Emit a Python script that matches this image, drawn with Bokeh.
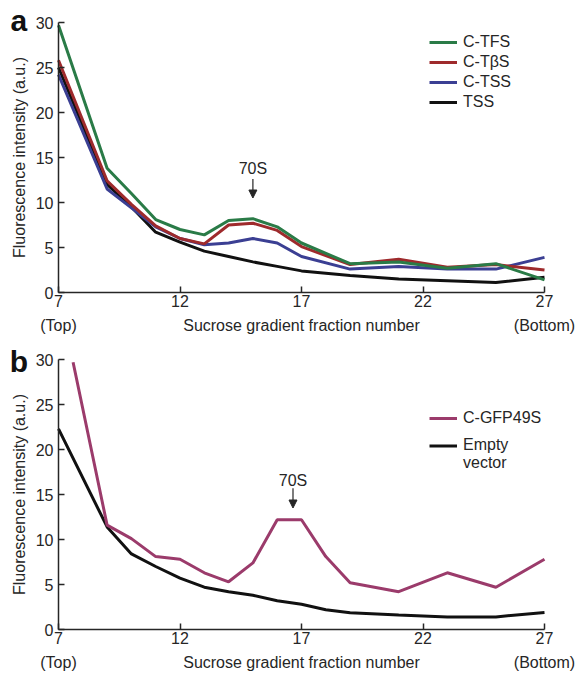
from bokeh.plotting import figure
from bokeh.layouts import column
from bokeh.models import (FixedTicker, LinearAxis, Legend, LegendItem, Label, Arrow,
                          NormalHead, Range1d)
from bokeh.embed import file_html
from bokeh.resources import INLINE

# ---- data: panel a ----
frac_a = [7, 9, 10, 11, 12, 13, 14, 15, 16, 17, 19, 21, 23, 25, 27]
c_tfs = [29.7, 13.8, 11.0, 8.1, 7.0, 6.4, 8.0, 8.2, 7.3, 5.5, 3.2, 3.4, 2.7, 3.2, 1.4]
c_tbs = [25.8, 12.4, 9.8, 7.4, 6.0, 5.4, 7.5, 7.7, 6.9, 5.1, 3.1, 3.7, 2.8, 3.1, 2.5]
c_tss = [24.2, 11.5, 9.4, 7.3, 6.0, 5.3, 5.5, 6.0, 5.5, 4.0, 2.6, 2.9, 2.6, 2.6, 3.9]
tss = [25.0, 12.0, 9.5, 6.7, 5.6, 4.6, 4.0, 3.4, 2.9, 2.4, 1.9, 1.5, 1.3, 1.1, 1.7]

# ---- data: panel b ----
frac_gfp = [7.6, 9, 10, 11, 12, 13, 14, 15, 16, 17, 18, 19, 21, 23, 25, 27]
c_gfp49s = [29.7, 11.6, 10.1, 8.1, 7.8, 6.3, 5.3, 7.4, 12.2, 12.2, 8.1, 5.2, 4.2, 6.3, 4.7, 7.8]
frac_ev = [7, 9, 10, 11, 12, 13, 14, 15, 16, 17, 18, 19, 21, 23, 25, 27]
empty_vec = [22.3, 11.4, 8.4, 7.0, 5.7, 4.7, 4.2, 3.8, 3.2, 2.8, 2.2, 1.85, 1.6, 1.4, 1.4, 1.9]

x_ticks = [7, 12, 17, 22, 27]
y_ticks = [0, 5, 10, 15, 20, 25, 30]
x_sub = {7: "(Top)", 17: "Sucrose gradient fraction number", 27: "(Bottom)"}

FONT = "Liberation Sans"
TXT = "#262626"

X_LO, X_HI = 7, 27
Y_LO, Y_HI = 0, 30
PX_PER_X = 24.3          # layout constants (pixel geometry)
LEFT_PAD, RIGHT_PAD = 58, 34
AXIS_PAD, SUB_BORDER = 22, 22


def base_fig(height, top_pad):
    frame_h = height - SUB_BORDER
    px_per_y = (frame_h - top_pad - AXIS_PAD) / (Y_HI - Y_LO)
    p = figure(width=578, height=height, output_backend="svg", toolbar_location=None,
               x_range=Range1d(X_LO - LEFT_PAD / PX_PER_X, X_HI + RIGHT_PAD / PX_PER_X),
               y_range=Range1d(Y_LO - AXIS_PAD / px_per_y, Y_HI + top_pad / px_per_y),
               x_axis_type=None, y_axis_type=None,
               min_border_left=0, min_border_right=0,
               min_border_top=0, min_border_bottom=SUB_BORDER)
    p.outline_line_color = None
    p.background_fill_color = "white"
    p.border_fill_color = "white"
    # main x axis pinned at y = 0
    xa = LinearAxis(ticker=FixedTicker(ticks=x_ticks), bounds=(X_LO, X_HI),
                    fixed_location=Y_LO)
    xa.major_tick_in = 6
    xa.major_tick_out = 0
    xa.minor_tick_line_color = None
    xa.axis_line_color = TXT
    xa.axis_line_width = 1.5
    xa.major_tick_line_color = TXT
    xa.major_tick_line_width = 1.5
    xa.major_label_text_font = FONT
    xa.major_label_text_font_size = "16px"
    xa.major_label_text_color = TXT
    xa.major_label_standoff = 2
    p.add_layout(xa, "below")
    # sub labels row (regular axis in the bottom border)
    xb = LinearAxis(ticker=FixedTicker(ticks=[7, 17, 27]))
    xb.major_label_overrides = x_sub
    xb.axis_line_color = None
    xb.major_tick_line_color = None
    xb.minor_tick_line_color = None
    xb.major_tick_in = 0
    xb.major_tick_out = 0
    xb.major_label_text_font = FONT
    xb.major_label_text_font_size = "16px"
    xb.major_label_text_color = TXT
    xb.major_label_standoff = 2
    p.add_layout(xb, "below")
    # y axis pinned at x = 7
    ya = LinearAxis(ticker=FixedTicker(ticks=y_ticks), bounds=(Y_LO, Y_HI),
                    fixed_location=X_LO)
    ya.axis_label = "Fluorescence intensity (a.u.)"
    ya.axis_label_text_font = FONT
    ya.axis_label_text_font_size = "16px"
    ya.axis_label_text_font_style = "normal"
    ya.axis_label_text_color = TXT
    ya.axis_label_standoff = 5
    ya.major_tick_in = 6
    ya.major_tick_out = 0
    ya.minor_tick_line_color = None
    ya.axis_line_color = TXT
    ya.axis_line_width = 1.5
    ya.major_tick_line_color = TXT
    ya.major_tick_line_width = 1.5
    ya.major_label_text_font = FONT
    ya.major_label_text_font_size = "16px"
    ya.major_label_text_color = TXT
    ya.major_label_standoff = 5
    p.add_layout(ya, "left")
    return p


def annotate(p, letter, lx, ly, x70, y70, ys, ye):
    p.add_layout(Label(x=lx, y=ly, text=letter,
                       text_font=FONT, text_font_size="30px",
                       text_font_style="bold", text_color="#111111",
                       text_align="center", text_baseline="alphabetic"))
    p.add_layout(Label(x=x70, y=y70, text="70S", text_font=FONT, text_font_size="16px",
                       text_color=TXT, text_align="center", text_baseline="middle"))
    p.add_layout(Arrow(x_start=x70, y_start=ys, x_end=x70, y_end=ye, line_width=1.2,
                       line_color=TXT,
                       end=NormalHead(size=8, fill_color=TXT, line_color=TXT)))


def style_legend(leg, x, y, h):
    leg.location = (x, y)
    leg.border_line_color = None
    leg.background_fill_alpha = 0
    leg.padding = 0
    leg.margin = 0
    leg.spacing = 0
    leg.glyph_width = 28
    leg.glyph_height = h
    leg.label_height = h
    leg.label_standoff = 6
    leg.label_text_font = FONT
    leg.label_text_font_size = "16px"
    leg.label_text_color = TXT


# ---- panel a ----
pa = base_fig(336, 22)
lw = 3
r1 = pa.line(frac_a, tss, line_color="#111111", line_width=lw)
r2 = pa.line(frac_a, c_tss, line_color="#3b3f93", line_width=lw)
r3 = pa.line(frac_a, c_tbs, line_color="#9e2a2c", line_width=lw)
r4 = pa.line(frac_a, c_tfs, line_color="#2a7b47", line_width=lw)
leg_a = Legend(items=[LegendItem(label="C-TFS", renderers=[r4]),
                      LegendItem(label="C-TβS", renderers=[r3]),
                      LegendItem(label="C-TSS", renderers=[r2]),
                      LegendItem(label="TSS", renderers=[r1])])
style_legend(leg_a, 429, 202, 20)
pa.add_layout(leg_a)
annotate(pa, "a", 5.366, 30.2, 15, 13.8, 12.6, 10.5)

# ---- panel b ----
pb = base_fig(337, 23)
s1 = pb.line(frac_ev, empty_vec, line_color="#111111", line_width=lw)
s2 = pb.line(frac_gfp, c_gfp49s, line_color="#9b3b6b", line_width=lw)
s_blank = pb.line([], [], line_alpha=0)
leg_b1 = Legend(items=[LegendItem(label="C-GFP49S", renderers=[s2])])
style_legend(leg_b1, 429, 222, 22)
pb.add_layout(leg_b1)
leg_b2 = Legend(items=[LegendItem(label="Empty", renderers=[s1]),
                       LegendItem(label="vector", renderers=[s_blank])])
style_legend(leg_b2, 429, 179, 15)
pb.add_layout(leg_b2)
annotate(pb, "b", 5.366, 29.75, 16.65, 16.6, 15.7, 13.5)

layout = column(pa, pb, spacing=0)
open("out.html", "w").write(file_html(layout, INLINE))
